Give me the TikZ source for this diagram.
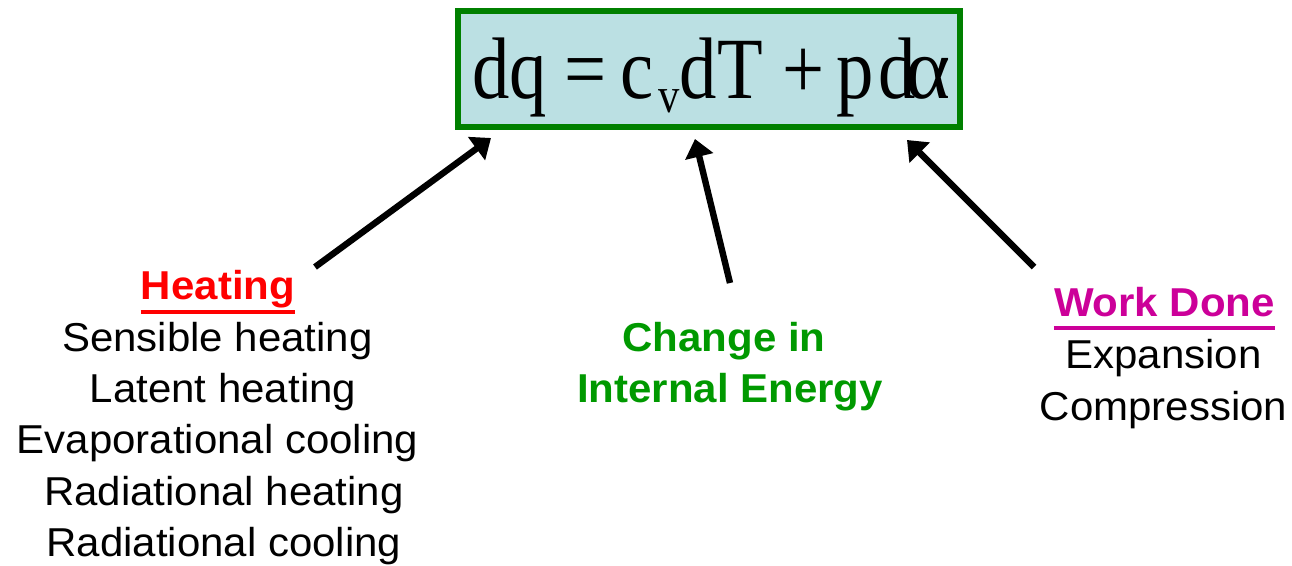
\documentclass[tikz,border=0pt]{standalone}
\usepackage{fontspec}
\usepackage{graphicx}
\setmainfont{Liberation Sans}
\newfontfamily\eqfont{Liberation Serif}
\usetikzlibrary{arrows.meta}
\definecolor{boxgreen}{RGB}{0,128,0}
\definecolor{boxfill}{RGB}{187,224,227}
\definecolor{hotred}{RGB}{255,0,0}
\definecolor{chgreen}{RGB}{0,153,0}
\definecolor{wmag}{RGB}{204,0,153}
\newcommand\vsq[1]{\scalebox{1}[0.96]{#1}}
\begin{document}
\begin{tikzpicture}[x=0.75pt,y=-0.75pt,
  txt/.style={inner sep=0pt, anchor=base, font=\fontsize{31.5}{36}\selectfont},
  btxt/.style={txt, font=\fontsize{31.5}{36}\selectfont\bfseries},
  arr/.style={line width=4.8pt, -{Triangle[length=13.5pt,width=21pt]}},
  ulline/.style={line width=3pt}]
\useasboundingbox (0,0) rectangle (1292,565);

% equation box
\node[draw=boxgreen, fill=boxfill, line width=4.5pt, minimum width=376.5pt,
      minimum height=87pt, inner sep=0pt] (eqbox) at (709,69) {};
\node[inner sep=0pt, anchor=base west, font=\eqfont\fontsize{56}{60}\selectfont] (eq) at (472,98)
  {\scalebox{1}[1.17]{dq\kern13pt=\kern10.5pt c\kern3.75pt\raisebox{-9pt}{\fontsize{32}{34}\selectfont v}dT\kern14.5pt+\kern9.5pt p\kern3pt d\kern-7.5pt\scalebox{1.15}[1]{α}}};

% heating
\node[btxt, text=hotred] (heading) at (218,299) {\vsq{Heating}};
\draw[ulline, hotred] ([yshift=-9.5pt]heading.base west) -- ([yshift=-9.5pt]heading.base east);
\node[txt] (h1) at (217.5,351) {\vsq{Sensible heating}};
\node[txt] (h2) at (223,402) {\vsq{Latent heating}};
\node[txt] (h3) at (217.5,453.5) {\vsq{Evaporational cooling}};
\node[txt] (h4) at (224,505) {\vsq{Radiational heating}};
\node[txt] (h5) at (224,556) {\vsq{Radiational cooling}};

% internal energy
\node[btxt, text=chgreen] (ch1) at (724,351) {\vsq{Change in}};
\node[btxt, text=chgreen] (ch2) at (730,402) {\vsq{Internal Energy}};

% work done
\node[btxt, text=wmag] (wd) at (1164.5,316) {\vsq{Work Done}};
\draw[ulline, wmag] ([yshift=-9pt]wd.base west) -- ([yshift=-9pt]wd.base east);
\node[txt] (w1) at (1163.5,368) {\vsq{Expansion}};
\node[txt] (w2) at (1163.5,420) {\vsq{Compression}};

% arrows
\coordinate (hTail) at (315,267);
\coordinate (hTip) at (491,138);
\coordinate (cTail) at (730,283);
\coordinate (cTip) at (695,139);
\coordinate (wTail) at (1034,267);
\coordinate (wTip) at (907,140);
\draw[arr] (hTail) -- (hTip);
\draw[arr] (cTail) -- (cTip);
\draw[arr] (wTail) -- (wTip);
\end{tikzpicture}
\end{document}
